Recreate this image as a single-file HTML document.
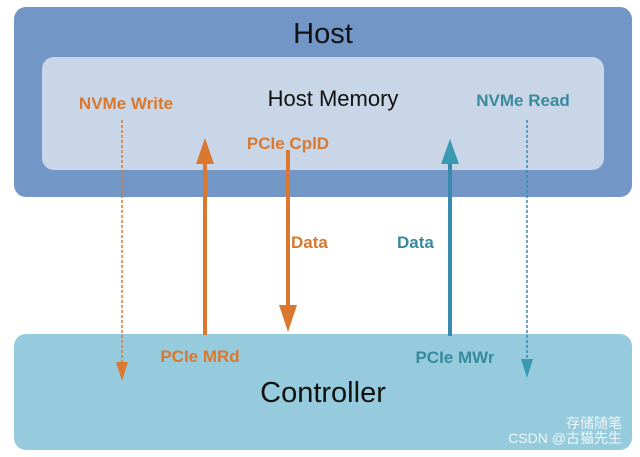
<!DOCTYPE html>
<html><head><meta charset="utf-8"><style>
body{margin:0;background:#fff;width:640px;height:457px;overflow:hidden}
svg{display:block}
text{font-family:"Liberation Sans","Noto Sans CJK SC",sans-serif}
</style></head><body>
<svg width="640" height="457" viewBox="0 0 640 457" xmlns="http://www.w3.org/2000/svg">
<rect x="14" y="7" width="618" height="190" rx="12" fill="#7297c6"/>
<rect x="42" y="57" width="562" height="113" rx="12" fill="#c8d6e7"/>
<rect x="14" y="334" width="618" height="116" rx="12" fill="#95cbdc"/>
<text x="323" y="43" font-size="29" text-anchor="middle" fill="#111">Host</text>
<text x="333" y="106" font-size="22" text-anchor="middle" fill="#111">Host Memory</text>
<text x="126" y="109" font-size="17" font-weight="bold" text-anchor="middle" fill="#d9782e">NVMe Write</text>
<text x="523" y="106" font-size="17" font-weight="bold" text-anchor="middle" fill="#3a8a9e">NVMe Read</text>
<text x="288" y="149" font-size="17" font-weight="bold" text-anchor="middle" fill="#d9782e">PCIe CplD</text>
<text x="291" y="248" font-size="17" font-weight="bold" fill="#d9782e">Data</text>
<text x="397" y="248" font-size="17" font-weight="bold" fill="#3a8a9e">Data</text>
<text x="200" y="362" font-size="17" font-weight="bold" text-anchor="middle" fill="#d9782e">PCIe MRd</text>
<text x="455" y="363" font-size="17" font-weight="bold" text-anchor="middle" fill="#3a8a9e">PCIe MWr</text>
<text x="323" y="402" font-size="29" text-anchor="middle" fill="#111">Controller</text>
<text x="622" y="443" font-size="14" text-anchor="end" fill="#fff" opacity="0.85">CSDN @古猫先生</text>
<text x="622" y="428" font-size="14" text-anchor="end" fill="#fff" opacity="0.85">存储随笔</text>
<!-- dotted -->
<line x1="122" y1="120" x2="122" y2="365" stroke="#d9782e" stroke-width="1.5" stroke-dasharray="3,2"/>
<polygon points="116,362 128,362 122,381" fill="#d9782e"/>
<line x1="527" y1="120" x2="527" y2="362" stroke="#3a8ab0" stroke-width="1.5" stroke-dasharray="3,2"/>
<polygon points="521,359 533,359 527,378" fill="#3a9ab0"/>
<!-- solid -->
<line x1="205" y1="160" x2="205" y2="335" stroke="#d9782e" stroke-width="4"/>
<polygon points="196,164 214,164 205,138" fill="#d9782e"/>
<line x1="288" y1="150" x2="288" y2="310" stroke="#d9782e" stroke-width="4"/>
<polygon points="279,305 297,305 288,332" fill="#d9782e"/>
<line x1="450" y1="160" x2="450" y2="336" stroke="#3a8ab0" stroke-width="4"/>
<polygon points="441,164 459,164 450,139" fill="#3a9ab0"/>
</svg>
</body></html>
